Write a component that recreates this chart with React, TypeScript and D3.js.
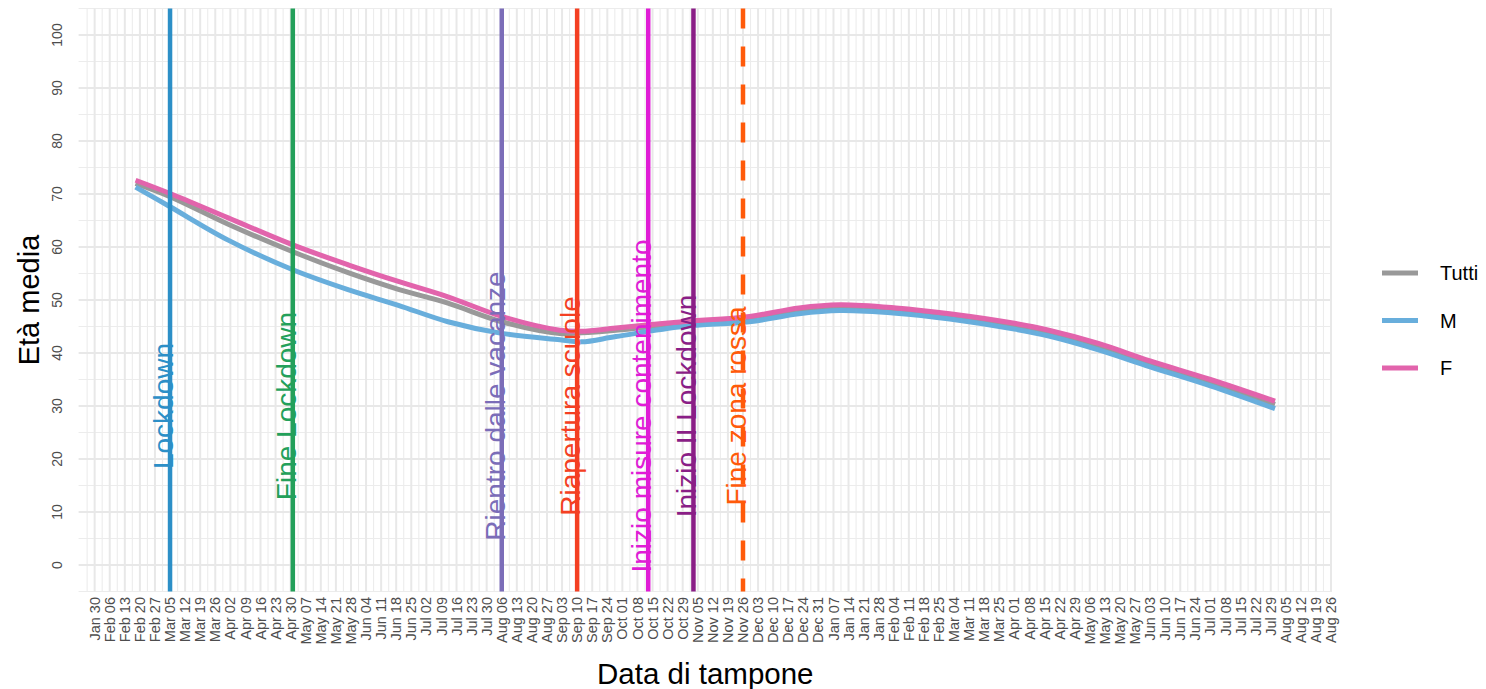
import React from "react";
import * as d3 from "d3";

const W = 1486;
const H = 689;

// ---- data ----
const dates = [
  "2020-02-18", "2020-03-05", "2020-04-01", "2020-05-01", "2020-05-27", "2020-06-19",
  "2020-07-12", "2020-08-06", "2020-09-02", "2020-09-12", "2020-09-28", "2020-10-29",
  "2020-11-29", "2020-12-22", "2021-01-10", "2021-02-05", "2021-03-02", "2021-04-01",
  "2021-04-17", "2021-05-10", "2021-06-03", "2021-07-01", "2021-07-31",
];
const tutti = [72.0, 69.5, 64.3, 59.1, 55.1, 52.0, 49.4, 45.9, 43.7, 43.8, 44.3, 45.6, 46.5, 48.0, 48.7, 48.1, 46.9, 45.1, 43.8, 41.3, 37.9, 34.4, 30.3];
const maschi = [71.3, 67.6, 61.3, 55.7, 51.9, 49.0, 45.9, 43.7, 42.5, 42.1, 43.1, 45.0, 45.9, 47.4, 48.0, 47.5, 46.4, 44.5, 43.2, 40.6, 37.4, 33.8, 29.5];
const femmine = [72.6, 70.1, 65.5, 60.4, 56.6, 53.5, 50.6, 46.9, 44.3, 44.1, 44.7, 45.9, 46.9, 48.5, 49.1, 48.5, 47.4, 45.6, 44.3, 41.8, 38.5, 35.0, 30.9];

const seriesNames = ["Tutti", "M", "F"];
const seriesColors = ["#999999", "#68AEDC", "#E264AC"];

const eventDates = ["2020-03-05", "2020-05-01", "2020-08-06", "2020-09-10", "2020-10-13", "2020-11-03", "2020-11-26"];
const eventLabels = ["Lockdown", "Fine Lockdown", "Rientro dalle vacanze", "Riapertura scuole", "Inizio misure contenimento", "Inizio II Lockdown", "Fine zona rossa"];
const eventColors = ["#2C8FC7", "#23A05A", "#7B6DB8", "#F43F22", "#E01CD6", "#8A1E86", "#FF5A0A"];
const eventDashed = [false, false, false, false, false, false, true];
const eventLabelY = 30;

const yTicks = [0, 10, 20, 30, 40, 50, 60, 70, 80, 90, 100];
const yMinor = [-5, 5, 15, 25, 35, 45, 55, 65, 75, 85, 95, 105];
const xTickStart = "2020-01-30";
const xTickEnd = "2021-08-27";

const parse = d3.utcParse("%Y-%m-%d");
const fmt = d3.utcFormat("%b %d");

export default function App() {
  const pL = 78.6, pR = 1332, pT = 8.5, pB = 591.5;
  const dd = dates.map((s) => parse(s) as Date);
  const d0 = dd[0].getTime();
  const d1 = dd[dd.length - 1].getTime();
  const ext = (d1 - d0) * 0.05;
  const x = d3.scaleUtc().domain([new Date(d0 - ext), new Date(d1 + ext)]).range([pL, pR]);
  const y = d3.scaleLinear().domain([-5, 105]).range([pB, pT]);

  const ticks = d3.utcThursday.range(parse(xTickStart) as Date, parse(xTickEnd) as Date);
  const halfWeek = 3.5 * 24 * 3600 * 1000;
  const minor = [new Date(ticks[0].getTime() - halfWeek), ...ticks.map((t) => new Date(t.getTime() + halfWeek))]
    .filter((t) => x(t) >= pL && x(t) <= pR);

  const series = [tutti, maschi, femmine];
  const line = d3
    .line<number>()
    .x((_, i) => x(dd[i]))
    .y((v) => y(v))
    .curve(d3.curveCatmullRom.alpha(0.5));

  const font = "'Liberation Sans', Arial, sans-serif";

  return (
    <svg width={W} height={H} style={{ position: "absolute", left: 0, top: 0, background: "#fff" }} fontFamily={font}>
      <rect x={0} y={0} width={W} height={H} fill="#fff" />
      {/* grid */}
      {yMinor.map((v) => (
        <line key={"ym" + v} x1={pL} x2={pR} y1={y(v)} y2={y(v)} stroke="#ececec" strokeWidth={1.1} />
      ))}
      {minor.map((t, i) => (
        <line key={"xm" + i} x1={x(t)} x2={x(t)} y1={pT} y2={pB} stroke="#ececec" strokeWidth={1.1} />
      ))}
      {yTicks.map((v) => (
        <line key={"yM" + v} x1={pL} x2={pR} y1={y(v)} y2={y(v)} stroke="#e8e8e8" strokeWidth={2} />
      ))}
      {ticks.map((t, i) => (
        <line key={"xM" + i} x1={x(t)} x2={x(t)} y1={pT} y2={pB} stroke="#e8e8e8" strokeWidth={2} />
      ))}

      {/* series */}
      {series.map((s, i) => (
        <path key={"s" + i} d={line(s) || ""} fill="none" stroke={seriesColors[i]} strokeWidth={5} strokeLinecap="butt" />
      ))}

      {/* event lines */}
      {eventDates.map((e, i) => {
        const ex = x(parse(e) as Date);
        return (
          <line
            key={"ev" + i}
            x1={ex}
            x2={ex}
            y1={pT}
            y2={pB}
            stroke={eventColors[i]}
            strokeWidth={4.5}
            strokeDasharray={eventDashed[i] ? "20,18" : undefined}
          />
        );
      })}
      {eventDates.map((e, i) => {
        const ex = x(parse(e) as Date);
        const ey = y(eventLabelY);
        return (
          <text
            key={"et" + i}
            transform={`translate(${ex},${ey}) rotate(-90)`}
            textAnchor="middle"
            dy="0.1em"
            fontSize={28}
            fill={eventColors[i]}
          >
            {eventLabels[i]}
          </text>
        );
      })}

      {/* y axis labels */}
      {yTicks.map((v) => (
        <text
          key={"yl" + v}
          transform={`translate(62,${y(v)}) rotate(-90)`}
          textAnchor="middle"
          fontSize={14}
          fill="#4d4d4d"
        >
          {v}
        </text>
      ))}
      {/* x axis labels */}
      {ticks.map((t, i) => (
        <text
          key={"xl" + i}
          transform={`translate(${x(t)},597) rotate(-90)`}
          textAnchor="end"
          dy="0.35em"
          fontSize={14.5}
          fill="#4d4d4d"
        >
          {fmt(t)}
        </text>
      ))}

      {/* axis titles */}
      <text x={(pL + pR) / 2} y={684} textAnchor="middle" fontSize={29.5} fill="#000">
        Data di tampone
      </text>
      <text transform={`translate(39,${(pT + pB) / 2}) rotate(-90)`} textAnchor="middle" fontSize={29} fill="#000">
        Età media
      </text>

      {/* legend */}
      {seriesNames.map((n, i) => {
        const ly = 273 + i * 47.5;
        return (
          <g key={"lg" + i}>
            <line x1={1382} x2={1418} y1={ly} y2={ly} stroke={seriesColors[i]} strokeWidth={5} />
            <text x={1440} y={ly} dy="0.36em" fontSize={20} fill="#000">
              {n}
            </text>
          </g>
        );
      })}
    </svg>
  );
}
